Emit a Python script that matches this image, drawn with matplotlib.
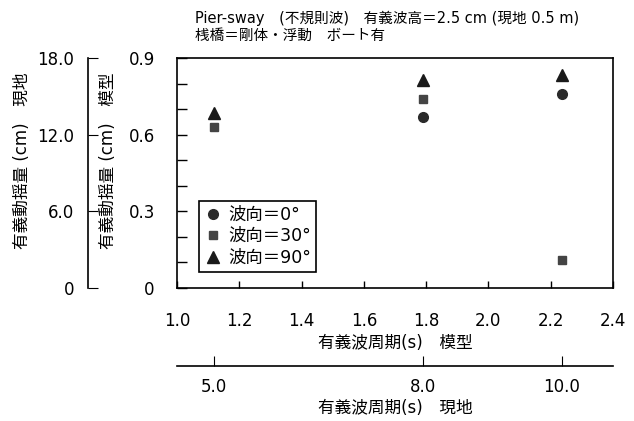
import matplotlib
matplotlib.use('Agg')
import matplotlib.pyplot as plt
import numpy as np

plt.rcParams['font.family'] = ['DejaVu Sans', 'Noto Sans CJK JP']

# data (model scale)
period_model = [1.118, 1.789, 2.236]
sway_0deg = [np.nan, 0.668, 0.759]
sway_30deg = [0.631, 0.738, 0.110]
sway_90deg = [0.686, 0.814, 0.833]
scale = 20.0  # 現地/模型
field_ticks = [5.0, 8.0, 10.0]
field_sway_ticks = [0, 6.0, 12.0, 18.0]

W, H = 634, 421
fig = plt.figure(figsize=(W / 100, H / 100), dpi=100)


def box(x0, y0, x1, y1):
    return [x0 / W, 1 - y1 / H, (x1 - x0) / W, (y1 - y0) / H]


ax = fig.add_axes(box(177, 58, 613, 288))
ax.plot(period_model, sway_0deg, 'o', color='#2a2a2a', ms=7, label='波向＝0°')
ax.plot(period_model, sway_30deg, 's', color='#444444', ms=6, label='波向＝30°')
ax.plot(period_model, sway_90deg, '^', color='#1a1a1a', ms=8, label='波向＝90°')
ax.set_xlim(1.0, 2.4)
ax.set_ylim(0, 0.9)
ax.set_xticks(np.arange(1.0, 2.41, 0.2))
ax.set_xticklabels(['1.0', '1.2', '1.4', '1.6', '1.8', '2.0', '2.2', '2.4'])
ax.set_yticks([0, 0.3, 0.6, 0.9])
ax.set_yticklabels(['0', '0.3', '0.6', '0.9'])
ax.set_yticks(np.arange(0.1, 0.9, 0.1), minor=True)
ax.tick_params(axis='both', direction='in', labelsize=12, width=1)
ax.tick_params(axis='x', length=5, pad=17)
ax.tick_params(axis='y', length=7, pad=16)
ax.tick_params(axis='y', which='minor', direction='in', length=7, width=1)
for s in ax.spines.values():
    s.set_linewidth(1.2)
ax.set_xlabel('有義波周期(s)　模型', fontsize=12, labelpad=3)
leg = ax.legend(loc='lower left', bbox_to_anchor=(0.05, 0.07), borderaxespad=0,
                fancybox=False, edgecolor='black', fontsize=12.5, handlelength=1,
                handletextpad=0.4, labelspacing=0.2, borderpad=0.3, framealpha=1)
leg.get_frame().set_linewidth(1.2)

# field-scale period axis
ax2 = fig.add_axes(box(177, 365, 613, 366))
ax2.set_xlim(1.0 * np.sqrt(scale), 2.4 * np.sqrt(scale))
ax2.set_ylim(0, 1)
for k in ['top', 'left', 'right']:
    ax2.spines[k].set_visible(False)
ax2.spines['bottom'].set_position(('axes', 0))
ax2.spines['bottom'].set_linewidth(1.2)
ax2.set_yticks([])
ax2.set_xticks(field_ticks)
ax2.set_xticklabels(['5.0', '8.0', '10.0'])
ax2.tick_params(axis='x', direction='in', length=7, pad=9, labelsize=12)
ax2.patch.set_visible(False)
ax2.set_xlabel('有義波周期(s)　現地', fontsize=12, labelpad=2)

# field-scale sway axis
ax3 = fig.add_axes(box(88, 58, 89, 288))
ax3.set_ylim(0, 0.9 * scale)
for k in ['top', 'bottom', 'right']:
    ax3.spines[k].set_visible(False)
ax3.spines['left'].set_linewidth(1.2)
ax3.set_xticks([])
ax3.set_yticks(field_sway_ticks)
ax3.set_yticklabels(['0', '6.0', '12.0', '18.0'])
ax3.tick_params(axis='y', direction='in', length=7, pad=10, labelsize=12)
ax3.patch.set_visible(False)

fig.text(22 / W, 1 - 161 / H, '有義動揺量 (cm)　現地', rotation=90,
         ha='center', va='center', fontsize=12)
fig.text(108 / W, 1 - 161 / H, '有義動揺量 (cm)　模型', rotation=90,
         ha='center', va='center', fontsize=12)

fig.text(195 / W, 1 - 18 / H, 'Pier-sway　(不規則波)　有義波高＝2.5 cm (現地 0.5 m)',
         ha='left', va='center', fontsize=10.5)
fig.text(195 / W, 1 - 35 / H, '桟橋＝剛体・浮動　ボート有',
         ha='left', va='center', fontsize=10.5)

fig.savefig('out.png', dpi=100)
